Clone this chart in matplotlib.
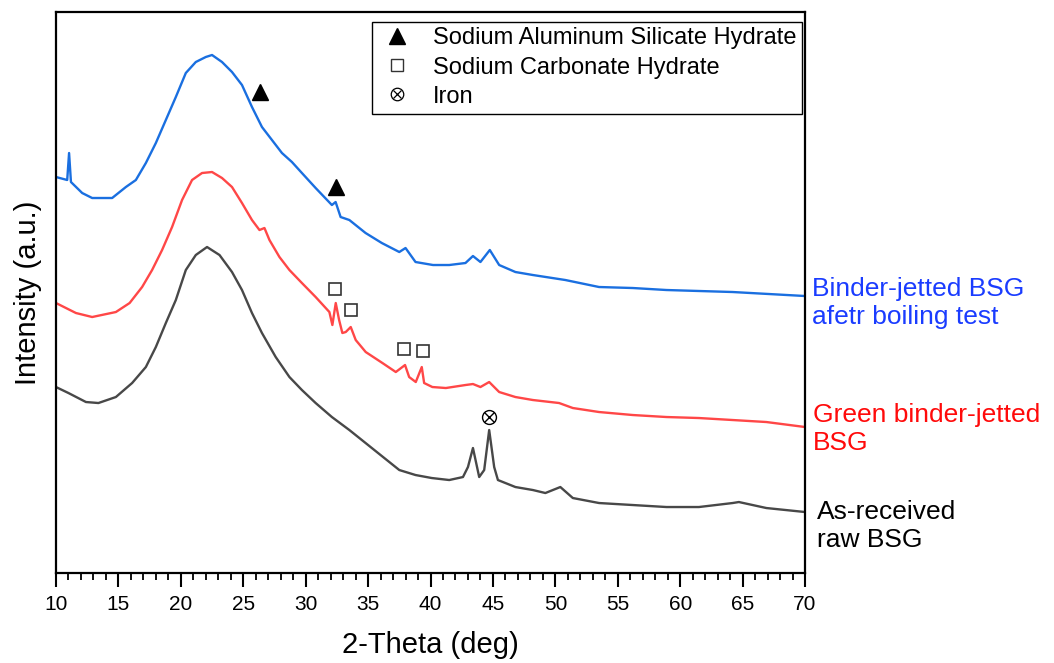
"""XRD patterns of BSG samples: as-received, green binder-jetted, after boiling test."""

import matplotlib

matplotlib.use("Agg")
import matplotlib.pyplot as plt
from matplotlib.lines import Line2D
from matplotlib.ticker import MultipleLocator

SANS = ["Liberation Sans", "DejaVu Sans"]

# 2-theta (deg) / intensity (a.u.)
blue_theta = [10.0, 10.9, 11.05, 11.2, 12.1, 12.9, 14.5, 15.6, 16.4, 17.2, 18.0, 18.8,
              19.6, 20.4, 21.2, 22.0, 22.5, 23.3, 24.1, 24.9, 25.7, 26.5, 27.3, 28.1,
              28.9, 29.7, 30.8, 32.1, 32.4, 32.8, 33.5, 34.8, 36.1, 37.5, 38.0, 38.8,
              40.2, 41.5, 42.8, 43.4, 44.0, 44.75, 45.5, 46.8, 48.2, 50.8, 53.5, 56.2,
              58.9, 64.2, 70.0]
blue_int = [396, 393, 420, 391, 380, 375, 375, 386, 393, 410, 430, 453,
            476, 500, 511, 516, 518, 511, 501, 488, 466, 446, 433, 420,
            411, 400, 385, 368, 371, 356, 353, 340, 330, 321, 325, 311,
            308, 308, 310, 317, 311, 323, 308, 301, 298, 293, 286, 285,
            283, 281, 277]

red_theta = [10.0, 11.6, 12.9, 14.8, 15.9, 16.9, 17.7, 18.5, 19.3, 20.1, 20.9, 21.7,
             22.5, 23.3, 24.1, 24.9, 25.7, 26.3, 26.7, 27.1, 27.9, 28.7, 29.7, 30.8,
             31.9, 32.14, 32.41, 32.68, 32.94, 33.21, 33.61, 34.01, 34.81, 36.15, 37.22,
             37.96, 38.29, 38.82, 39.3, 39.49, 40.15, 41.23, 42.8, 43.4, 44.0, 44.7,
             45.5, 46.8, 48.2, 50.3, 51.4, 53.5, 56.2, 58.9, 61.5, 64.2, 66.9, 70.0]
red_int = [270, 260, 256, 261, 270, 286, 303, 323, 346, 373, 393, 400,
           401, 395, 386, 370, 353, 343, 345, 333, 316, 303, 290, 276,
           261, 248, 270, 253, 240, 241, 246, 233, 221, 210, 201,
           208, 196, 191, 206, 190, 186, 185, 188, 189, 186, 191,
           181, 176, 173, 170, 165, 161, 158, 156, 155, 153, 151, 146]

gray_theta = [10.0, 11.0, 12.4, 13.4, 14.8, 16.1, 17.2, 18.0, 18.8, 19.6, 20.4, 21.2,
              22.1, 23.1, 24.1, 24.9, 25.7, 26.5, 27.6, 28.7, 29.7, 30.8, 32.1, 33.5,
              34.8, 37.5, 38.8, 40.1, 41.5, 42.6, 43.0, 43.4, 43.9, 44.3, 44.7, 45.1,
              45.4, 46.8, 48.2, 49.2, 50.4, 51.4, 53.5, 56.2, 58.9, 61.5, 64.2, 64.7,
              66.9, 70.0]
gray_int = [186, 180, 171, 170, 176, 190, 206, 226, 250, 273, 303, 318,
            326, 318, 301, 283, 260, 240, 216, 196, 183, 170, 156, 143,
            130, 103, 98, 95, 93, 96, 106, 125, 96, 103, 143, 106,
            93, 86, 83, 80, 86, 75, 70, 68, 66, 66, 70, 71,
            65, 61]

# phase markers
nash_theta = [26.35, 32.4]
nash_int = [481, 386]
carb_theta = [32.35, 33.6, 37.9, 39.4]
carb_int = [284, 263, 224, 222]
iron_theta = [44.7]
iron_int = [156]

fig = plt.figure(figsize=(10.54, 6.63), dpi=100)
ax = fig.add_axes([0.0531, 0.1357, 0.7107, 0.8462])

ax.plot(gray_theta, gray_int, color="#484848", lw=1.7)
ax.plot(red_theta, red_int, color="#ff4747", lw=1.7)
ax.plot(blue_theta, blue_int, color="#1a6fe0", lw=1.7)

ax.plot(nash_theta, nash_int, ls="none", marker="^", ms=11, color="black")
ax.plot(carb_theta, carb_int, ls="none", marker="s", ms=9, mfc="white", mec="#333333", mew=1.2)
ax.plot(iron_theta, iron_int, ls="none", marker="o", ms=10, mfc="none", mec="black", mew=1.0)
ax.plot(iron_theta, iron_int, ls="none", marker="x", ms=7, mec="black", mew=1.0)

ax.set_xlim(10, 70)
ax.set_ylim(0, 561)
ax.xaxis.set_major_locator(MultipleLocator(5))
ax.xaxis.set_minor_locator(MultipleLocator(1))
ax.tick_params(axis="x", which="major", length=10, width=1.5, direction="out", pad=6)
ax.tick_params(axis="x", which="minor", length=5, width=1.3, direction="out")
ax.set_yticks([])
for lab in ax.get_xticklabels():
    lab.set_family(SANS)
    lab.set_fontsize(15)
for sp in ax.spines.values():
    sp.set_linewidth(1.6)

ax.set_xlabel("2-Theta (deg)", family=SANS, fontsize=21, labelpad=12)
ax.set_ylabel("Intensity (a.u.)", family=SANS, fontsize=21, labelpad=10)

handles = [
    Line2D([], [], ls="none", marker="^", ms=11, color="black"),
    Line2D([], [], ls="none", marker="s", ms=8, mfc="white", mec="#333333", mew=1.0),
    (Line2D([], [], ls="none", marker="o", ms=9, mfc="none", mec="black", mew=0.9),
     Line2D([], [], ls="none", marker="x", ms=6, mec="black", mew=0.9)),
]
labels = ["Sodium Aluminum Silicate Hydrate", "Sodium Carbonate Hydrate", "Iron"]
leg = ax.legend(handles, labels, loc="upper right", bbox_to_anchor=(0.996, 0.983),
                prop={"family": SANS, "size": 17}, fancybox=False, edgecolor="black",
                framealpha=1, borderpad=0.25, labelspacing=0.3, handletextpad=0.7,
                handlelength=1.6, borderaxespad=0)
leg.get_frame().set_linewidth(1.0)

fig.text(812 / 1054, 1 - 303 / 663, "Binder-jetted BSG\nafetr boiling test", color="#1a3cff",
         family=SANS, fontsize=19, va="center", ha="left", linespacing=1.2)
fig.text(813 / 1054, 1 - 429 / 663, "Green binder-jetted\nBSG", color="#ff0a0a",
         family=SANS, fontsize=19, va="center", ha="left", linespacing=1.2)
fig.text(817 / 1054, 1 - 526 / 663, "As-received\nraw BSG", color="black",
         family=SANS, fontsize=19, va="center", ha="left", linespacing=1.2)

fig.savefig("out.png", dpi=100)
